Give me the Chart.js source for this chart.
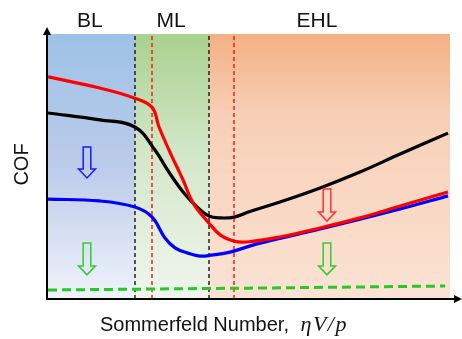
<!DOCTYPE html>
<html><head><meta charset="utf-8">
<script src="https://cdn.jsdelivr.net/npm/chart.js@4/dist/chart.umd.min.js"></script>
<style>html,body{margin:0;padding:0;background:#fff}#wrap{width:462px;height:339px;position:relative}</style>
</head><body><div id="wrap"><canvas id="c" width="462" height="339"></canvas></div>
<script>
// ---- data (arbitrary units: Sommerfeld number 0-100, COF 0-100) ----
const redX   = [0,12.9,21.6,25.9,27.6,30.3,33.6,36.1,40.0,43.0,46.3,50.0,57.7,67.7,77.6,87.6,99.5];
const redY   = [83.8,79.6,75.8,72.3,65.0,55.5,44.9,36.2,28.7,24.0,21.8,21.6,23.4,26.8,30.6,35.1,40.4];
const blackX = [0,12.9,21.6,26.6,29.9,33.6,37.1,40.0,43.0,46.3,50.2,57.7,67.7,77.6,87.6,99.5];
const blackY = [70.2,67.6,64.9,56.2,48.3,40.4,34.7,31.3,30.6,30.9,33.0,36.6,41.9,47.9,54.7,62.6];
const blueX  = [0,12.9,21.6,25.9,29.1,31.6,34.6,37.8,40.0,45.3,52.0,67.7,87.6,99.5];
const blueY  = [37.7,37.0,34.7,30.9,23.0,19.3,17.4,16.2,16.4,17.7,20.8,26.4,34.0,38.9];
const greenX = [0,50,98.8];
const greenY = [3.4,4.1,4.9];
const vlineX = [21.64,25.87,40.05,46.27];
const regionStart = [0,21.64,40.05];
const regionEnd   = [21.64,40.05,100];
const regionLabels = ['BL','ML','EHL'];
const labelX = [10.4,30.6,66.9];
const arrowX   = [9.7,9.7,69.4,69.4];
const arrowTop = [57.4,21.1,41.5,21.1];
const arrowTip = [45.7,9.1,29.4,9.1];
const xTitle = 'Sommerfeld Number, ';
const xTitleMath = 'ηV/p';
const yTitle = 'COF';

// ---- styles ----
const vlineColors = ['#222','#ff1a1a','#222','#ff1a1a'];
const regionGrad = [
  [[0,'#9dc2e6'],[0.5,'#bccbea'],[1,'#eff3fa']],
  [[0,'#a9d18e'],[0.45,'#d3e7c8'],[1,'#f0f6ee']],
  [[0,'#f3b083'],[0.3,'#f8cfb6'],[1,'#fbe3d4']]
];
const arrowColors = ['#1a1aff','#33cc33','#ff3333','#33cc33'];

const pts = (xs, ys) => xs.map((x,i)=>({x, y: ys[i]}));
const datasets = [
  {data: pts(redX, redY), borderColor:'#ff0000', borderWidth:3.2, order:1, tension:0.4},
  {data: pts(blueX, blueY), borderColor:'#0000ff', borderWidth:3.2, order:2, tension:0.4},
  {data: pts(blackX, blackY), borderColor:'#000000', borderWidth:3.2, order:3, tension:0.4},
  {data: pts(greenX, greenY), borderColor:'#22cc22', borderWidth:3, borderDash:[9,5], order:4, tension:0}
];
vlineX.forEach((vx,i)=>{
  datasets.push({data:[{x:vx,y:0},{x:vx,y:100}], borderColor:vlineColors[i], borderWidth:1.5, borderDash:[4,3], order:10, tension:0});
});
datasets.forEach(d=>{ d.pointRadius=0; d.fill=false; });

const decor = {
  id:'decor',
  beforeDatasetsDraw(chart){
    const {ctx, chartArea:a, scales:{x}} = chart;
    ctx.save();
    regionStart.forEach((s,i)=>{
      const x0 = x.getPixelForValue(s), x1 = x.getPixelForValue(regionEnd[i]);
      const g = ctx.createLinearGradient(0,a.top,0,a.bottom);
      regionGrad[i].forEach(([p,c])=>g.addColorStop(p,c));
      ctx.fillStyle = g;
      ctx.fillRect(x0,a.top,x1-x0,a.bottom-a.top);
    });
    ctx.restore();
  },
  afterDatasetsDraw(chart){
    const {ctx, chartArea:a, scales:{x,y}} = chart;
    ctx.save();
    // arrows
    arrowX.forEach((ax,i)=>{
      const cx = x.getPixelForValue(ax), t = y.getPixelForValue(arrowTop[i]), b = y.getPixelForValue(arrowTip[i]);
      const sw = 3.8, hw = 8.5, hh = 9;
      ctx.beginPath();
      ctx.moveTo(cx-sw,t); ctx.lineTo(cx+sw,t); ctx.lineTo(cx+sw,b-hh); ctx.lineTo(cx+hw,b-hh);
      ctx.lineTo(cx,b); ctx.lineTo(cx-hw,b-hh); ctx.lineTo(cx-sw,b-hh); ctx.closePath();
      ctx.strokeStyle = arrowColors[i]; ctx.lineWidth = 1.5; ctx.stroke();
    });
    // axes with arrowheads
    ctx.strokeStyle = '#000'; ctx.fillStyle = '#000'; ctx.lineWidth = 2;
    const ox = a.left - 1, oy = a.bottom;
    ctx.beginPath(); ctx.moveTo(ox, oy+1); ctx.lineTo(ox, a.top - 4); ctx.stroke();
    ctx.beginPath(); ctx.moveTo(ox, a.top-7); ctx.lineTo(ox-4, a.top+1); ctx.lineTo(ox+4, a.top+1); ctx.closePath(); ctx.fill();
    ctx.beginPath(); ctx.moveTo(ox-1, oy); ctx.lineTo(chart.width-5, oy); ctx.stroke();
    ctx.beginPath(); ctx.moveTo(chart.width, oy); ctx.lineTo(chart.width-8, oy-4); ctx.lineTo(chart.width-8, oy+4); ctx.closePath(); ctx.fill();
    // region labels
    ctx.fillStyle = '#111';
    ctx.font = '21px "Liberation Sans", Arial, sans-serif';
    ctx.textAlign = 'center'; ctx.textBaseline = 'alphabetic';
    regionLabels.forEach((l,i)=> ctx.fillText(l, x.getPixelForValue(labelX[i]), a.top - 7));
    // x title
    ctx.textAlign = 'left';
    ctx.font = '20px "Liberation Sans", Arial, sans-serif';
    ctx.fillText(xTitle, 100, 331);
    const w1 = ctx.measureText(xTitle).width;
    ctx.font = 'italic 22px "Liberation Serif", "Times New Roman", serif';
    ctx.letterSpacing = '1.5px';
    ctx.fillText(xTitleMath, 100 + w1 + 6, 331);
    ctx.letterSpacing = '0px';
    // y title
    ctx.translate(28, (a.top + a.bottom)/2 - 2);
    ctx.rotate(-Math.PI/2);
    ctx.textAlign = 'center';
    ctx.font = '20px "Liberation Sans", Arial, sans-serif';
    ctx.fillText(yTitle, 0, 0);
    ctx.restore();
  }
};

new Chart(document.getElementById('c'), {
  type:'line',
  data:{datasets},
  options:{
    responsive:false, animation:false, events:[],
    layout:{padding:{left:48, right:12, top:34, bottom:40}},
    plugins:{legend:{display:false}, tooltip:{enabled:false}},
    scales:{
      x:{type:'linear', min:0, max:100, display:false},
      y:{type:'linear', min:0, max:100, display:false}
    }
  },
  plugins:[decor]
});
</script></body></html>
